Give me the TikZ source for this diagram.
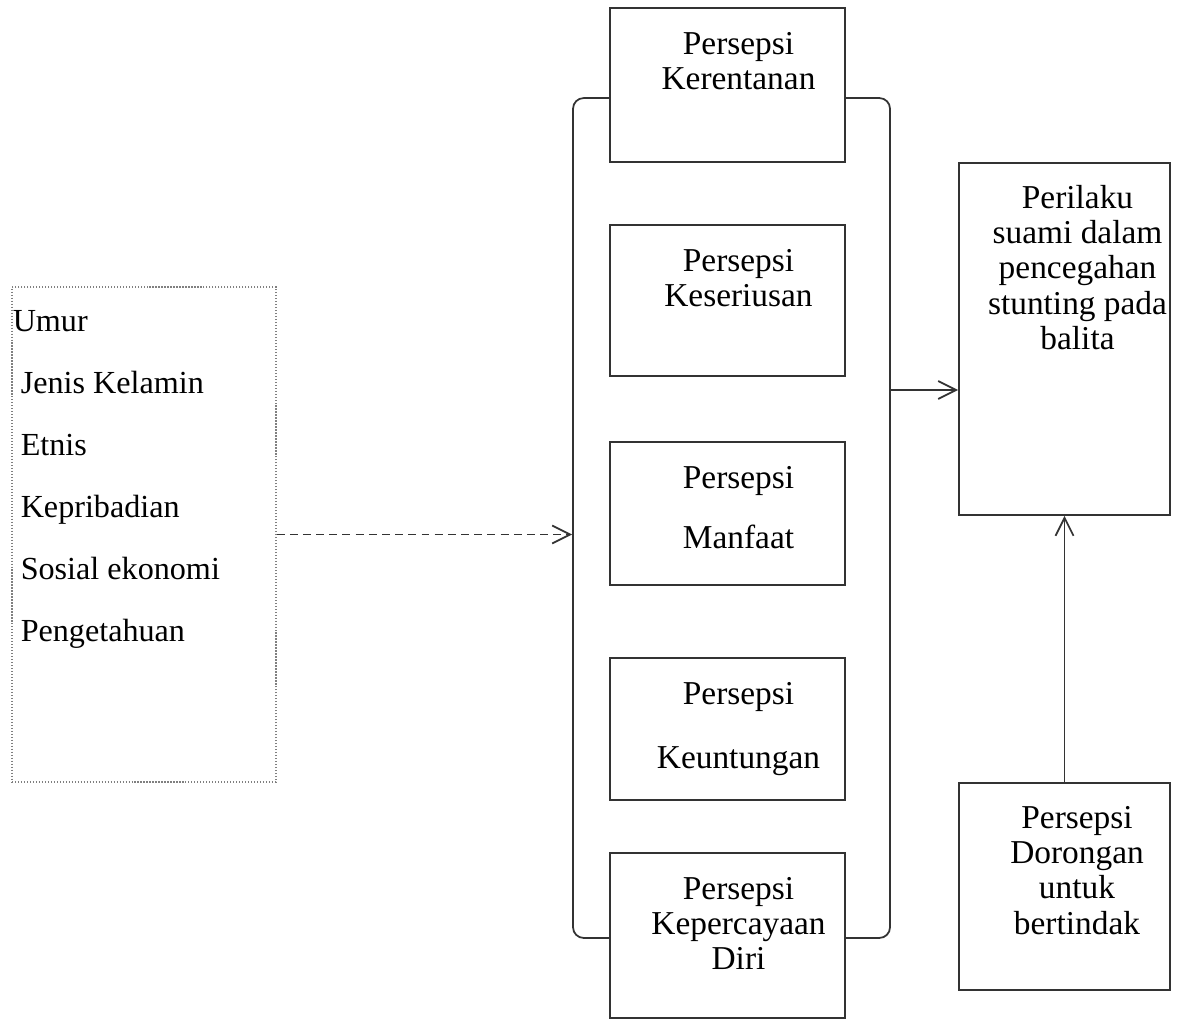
\documentclass[tikz,border=0pt]{standalone}
\usepackage{fontspec}
\setmainfont{Liberation Serif}
\usetikzlibrary{arrows.meta,positioning}
\tikzset{
  K/.style={draw=black!80, rectangle, fill=white, line width=1pt,
            minimum width=4.7cm, inner sep=0pt},
  KR/.style={K, minimum width=4.22cm},
  T/.style={align=center, inner sep=0pt,
            font=\fontsize{19}{20}\selectfont},
  SA/.style={-{Straight Barb[length=3.6mm,width=3.6mm]}, line width=1pt, color=black!80},
  DA/.style={SA, dash pattern=on 4.5pt off 3pt}
}

\begin{document}
\begin{tikzpicture}[x=0.02cm, y=-0.02cm]
\useasboundingbox (0,0) rectangle (1185,1020);

% ---- Left: modifying factors ----
\node[draw=gray, densely dotted, line width=0.7pt, rectangle,
      minimum width=5.28cm, minimum height=9.9cm] (faktor) at (144,534.5) {};
\node[align=left, inner sep=0pt, font=\fontsize{18.3}{35.3}\selectfont,
      below right=0.48cm and 0.18cm of faktor.north west] (faktor-t)
    {\hspace*{-0.16cm}Umur\\ Jenis Kelamin\\ Etnis\\ Kepribadian\\
     Sosial ekonomi\\ Pengetahuan};

% ---- Middle: bracket round the perceptions ----
\node[draw=black!80, rectangle, rounded corners=6pt, line width=1pt,
      minimum width=6.34cm, minimum height=16.8cm] (kelompok) at (731.5,518) {};

% ---- Middle: perception boxes ----
\node[K, minimum height=3.08cm] (rentan) at (727.5,85) {};
\node[T, below=0.5cm of rentan.north, xshift=0.22cm] (rentan-t)
    {Persepsi\\ Kerentanan};

\node[K, minimum height=3.02cm] (serius) at (727.5,300.5) {};
\node[T, below=0.5cm of serius.north, xshift=0.22cm] (serius-t)
    {Persepsi\\ Keseriusan};

\node[K, minimum height=2.86cm] (manfaat) at (727.5,513.5) {};
\node[T, below=0.5cm of manfaat.north, xshift=0.22cm] (manfaat-t)
    {Persepsi\\[0.5cm] Manfaat};

\node[K, minimum height=2.84cm] (untung) at (727.5,729) {};
\node[T, below=0.5cm of untung.north, xshift=0.22cm] (untung-t)
    {Persepsi\\[0.58cm] Keuntungan};

\node[K, minimum height=3.3cm] (percaya) at (727.5,935.5) {};
\node[T, below=0.5cm of percaya.north, xshift=0.22cm] (percaya-t)
    {Persepsi\\ Kepercayaan\\ Diri};

% ---- Right: behaviour and cue to action ----
\node[KR, minimum height=7.04cm] (perilaku) at (1064.5,339) {};
\node[T, below=0.46cm of perilaku.north, xshift=0.26cm] (perilaku-t)
    {Perilaku\\ suami dalam\\ pencegahan\\ stunting pada\\ balita};

\node[KR, minimum height=4.14cm] (dorongan) at (1064.5,886.5) {};
\node[T, below=0.48cm of dorongan.north, xshift=0.25cm] (dorongan-t)
    {Persepsi\\ Dorongan\\ untuk\\ bertindak};

% ---- Arrows ----
\draw[DA] (faktor.east) -- (faktor.east -| kelompok.west);
\draw[SA] (kelompok.east |- 0,390) -- (perilaku.west |- 0,390);
\draw[SA] (dorongan.north) -- (perilaku.south);

\end{tikzpicture}
\end{document}
